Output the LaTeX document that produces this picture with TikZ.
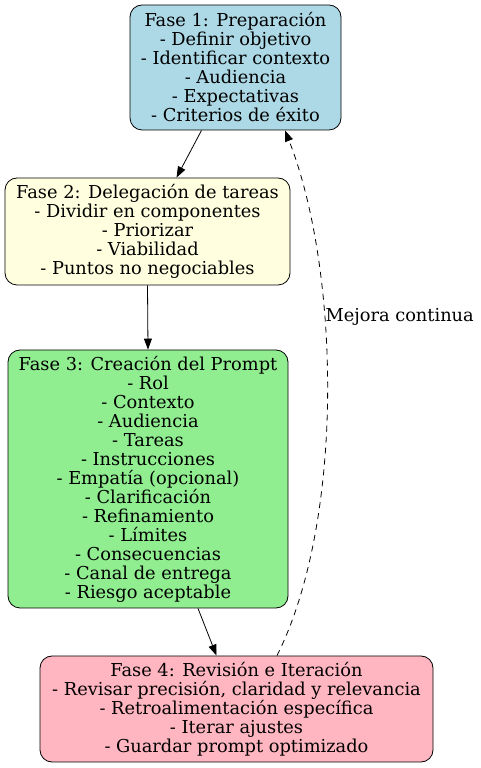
\documentclass[tikz,border=0pt]{standalone}
\usepackage{fontspec}
\setmainfont{DejaVu Serif}
\usetikzlibrary{arrows.meta}

\begin{document}
\begin{tikzpicture}[x=1pt,y=1pt,
    fase/.style={draw=black,line width=0.8pt,rounded corners=12pt,align=center,inner sep=0pt,
                 font=\fontsize{17.8}{19}\selectfont},
    flecha/.style={-{Triangle[length=11pt,width=8pt]},black,line width=0.8pt}]
  \useasboundingbox (0,0) rectangle (481,768);
  \pgfmathsetmacro\topy{768}   % image top, y runs down in the reference

% four phases, top to bottom
  \node[fase,fill={rgb,255:red,173;green,216;blue,230},minimum width=211,minimum height=125]
       (prep) at (235.5,\topy-67.5)
       {Fase 1: Preparación\\- Definir objetivo\\- Identificar contexto\\- Audiencia\\- Expectativas\\- Criterios de éxito};
  \node[fase,fill={rgb,255:red,255;green,255;blue,224},minimum width=285,minimum height=107]
       (deleg) at (147.5,\topy-231.5)
       {Fase 2: Delegación de tareas\\- Dividir en componentes\\- Priorizar\\- Viabilidad\\- Puntos no negociables};
  \node[fase,fill={rgb,255:red,144;green,238;blue,144},minimum width=280,minimum height=258]
       (prompt) at (148,\topy-479)
       {Fase 3: Creación del Prompt\\- Rol\\- Contexto\\- Audiencia\\- Tareas\\- Instrucciones\\- Empatía (opcional)\\- Clarificación\\- Refinamiento\\- Límites\\- Consecuencias\\- Canal de entrega\\- Riesgo aceptable};
  \node[fase,fill={rgb,255:red,255;green,182;blue,193},minimum width=393,minimum height=106]
       (revis) at (236.5,\topy-709)
       {Fase 4: Revisión e Iteración\\- Revisar precisión, claridad y relevancia\\- Retroalimentación específica\\- Iterar ajustes\\- Guardar prompt optimizado};

% forward flow
  \draw[flecha] ([xshift=-34]prep.south) -- ([xshift=29]deleg.north);
  \draw[flecha] (deleg.south) -- (prompt.north);
  \draw[flecha] ([xshift=50]prompt.south) -- ([xshift=-20]revis.north);

% feedback loop
  \draw[flecha,dash pattern=on 6pt off 5pt] ([xshift=40.5]revis.north) .. controls (345,\topy-520) and (340,\topy-270)
        .. node[pos=0.635,anchor=west,font=\fontsize{17.8}{19}\selectfont,xshift=1,inner sep=0pt] {Mejora continua}
        ([xshift=49.5]prep.south);
\end{tikzpicture}
\end{document}
